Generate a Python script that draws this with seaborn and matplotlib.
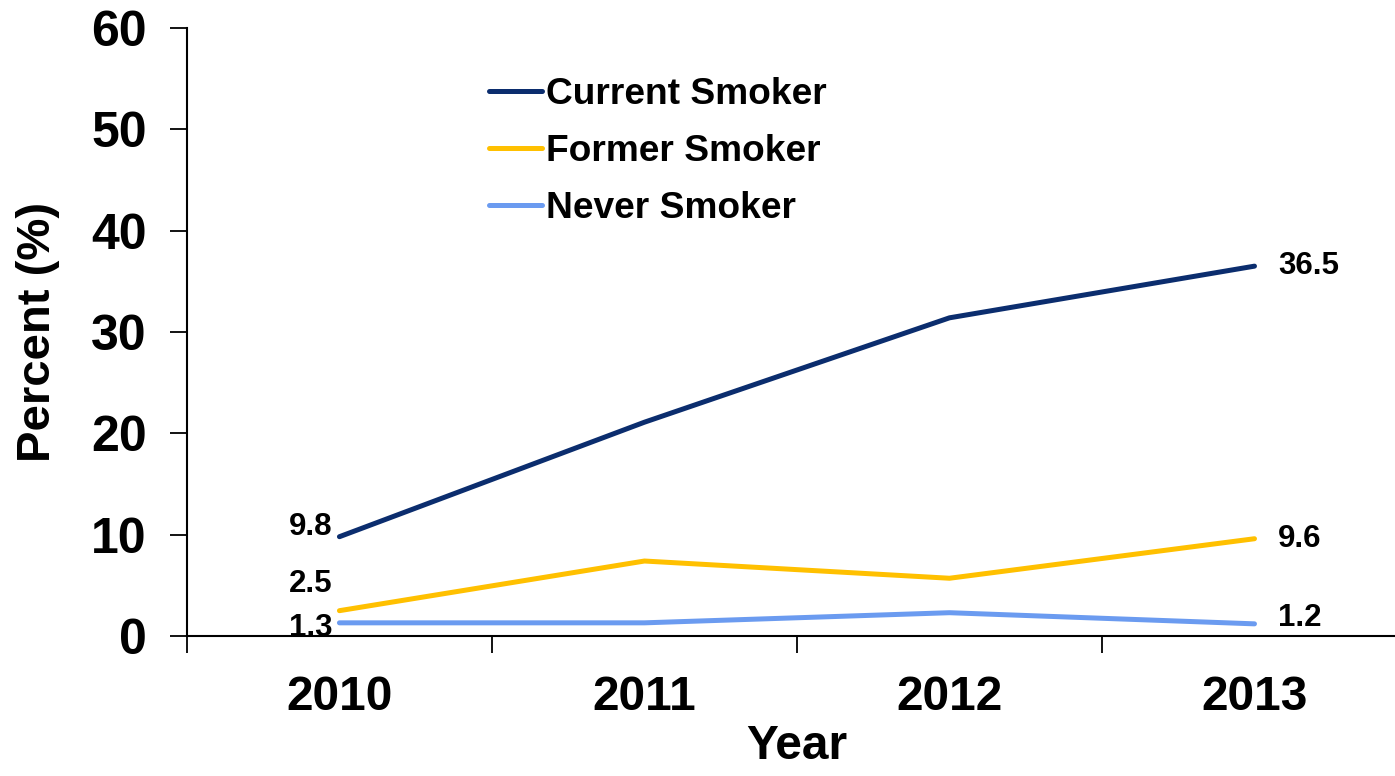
import matplotlib
matplotlib.use("Agg")
import matplotlib.pyplot as plt
import seaborn as sns
import pandas as pd
from matplotlib.ticker import FixedLocator

years = ["2010", "2011", "2012", "2013"]
current = [9.8, 21.1, 31.4, 36.5]
former = [2.5, 7.4, 5.7, 9.6]
never = [1.3, 1.3, 2.3, 1.2]
series_names = ["Current Smoker", "Former Smoker", "Never Smoker"]
colors = ["#0B2D6E", "#FFC000", "#6B9BF0"]
y_ticks = [0, 10, 20, 30, 40, 50, 60]

sns.set_theme(style="white")
plt.rcParams['font.family'] = ['Liberation Sans', 'DejaVu Sans']
plt.rcParams['font.weight'] = 'bold'
plt.rcParams['text.color'] = 'black'
plt.rcParams['axes.labelcolor'] = 'black'
plt.rcParams['xtick.color'] = 'black'
plt.rcParams['ytick.color'] = 'black'

rows = []
for name, vals in zip(series_names, [current, former, never]):
    for i, v in enumerate(vals):
        rows.append({"pos": i, "Year": years[i], "val": v, "series": name})
df = pd.DataFrame(rows)

fig = plt.figure(figsize=(13.95, 7.76), dpi=100)
ax = fig.add_axes([0.134, 0.1804, 0.8746, 0.7835])
sns.lineplot(data=df, x="pos", y="val", hue="series", palette=colors,
             hue_order=series_names, linewidth=3.6, ax=ax, legend=True,
             solid_capstyle="round")

ax.set_xlim(-0.5, 3.5)
ax.set_ylim(0, 60)
ax.set_yticks(y_ticks)
ax.set_yticklabels([str(t) for t in y_ticks], fontsize=36, fontweight='bold', color='black')
ax.set_xticks(range(len(years)))
ax.set_xticklabels(years, fontsize=34.5, fontweight='bold', color='black')
ax.tick_params(axis='x', which='major', length=0, pad=28)
ax.xaxis.set_minor_locator(FixedLocator([-0.5, 0.5, 1.5, 2.5, 3.5]))
ax.tick_params(axis='x', which='minor', length=12, width=1.3, color='black', direction='out', bottom=True)
ax.tick_params(axis='y', which='major', length=12, width=1.3, color='black', direction='out', left=True, pad=17)

for s in ["top", "right"]:
    ax.spines[s].set_visible(False)
for s in ["left", "bottom"]:
    ax.spines[s].set_color("black")
    ax.spines[s].set_linewidth(1.5)

ax.set_xlabel("Year", fontsize=34.5, fontweight='bold', labelpad=3, color='black')
ax.set_ylabel("Percent (%)", fontsize=34, fontweight='bold', labelpad=22.5, color='black')

# annotations
ann_first = [(current[0], 7), (former[0], 19), (never[0], -4)]
for v, dy in ann_first:
    ax.annotate(f"{v}", xy=(0, v), xytext=(-5, dy), textcoords="offset points",
                ha="right", va="center", fontsize=22.5, fontweight='bold', color='black')
ann_last = [(current[3], 0), (former[3], 0), (never[3], 4)]
for v, dy in ann_last:
    ax.annotate(f"{v}", xy=(3, v), xytext=(17, dy), textcoords="offset points",
                ha="left", va="center", fontsize=22.5, fontweight='bold', color='black')

leg = ax.legend(loc="upper left", bbox_to_anchor=(0.22, 0.975), frameon=False,
                handlelength=1.45, handletextpad=0.1, labelspacing=0.6,
                prop={'weight': 'bold', 'size': 26.7})
for line in leg.get_lines():
    line.set_linewidth(3.6)
for t in leg.get_texts():
    t.set_color('black')

fig.savefig("out.png", dpi=100)
